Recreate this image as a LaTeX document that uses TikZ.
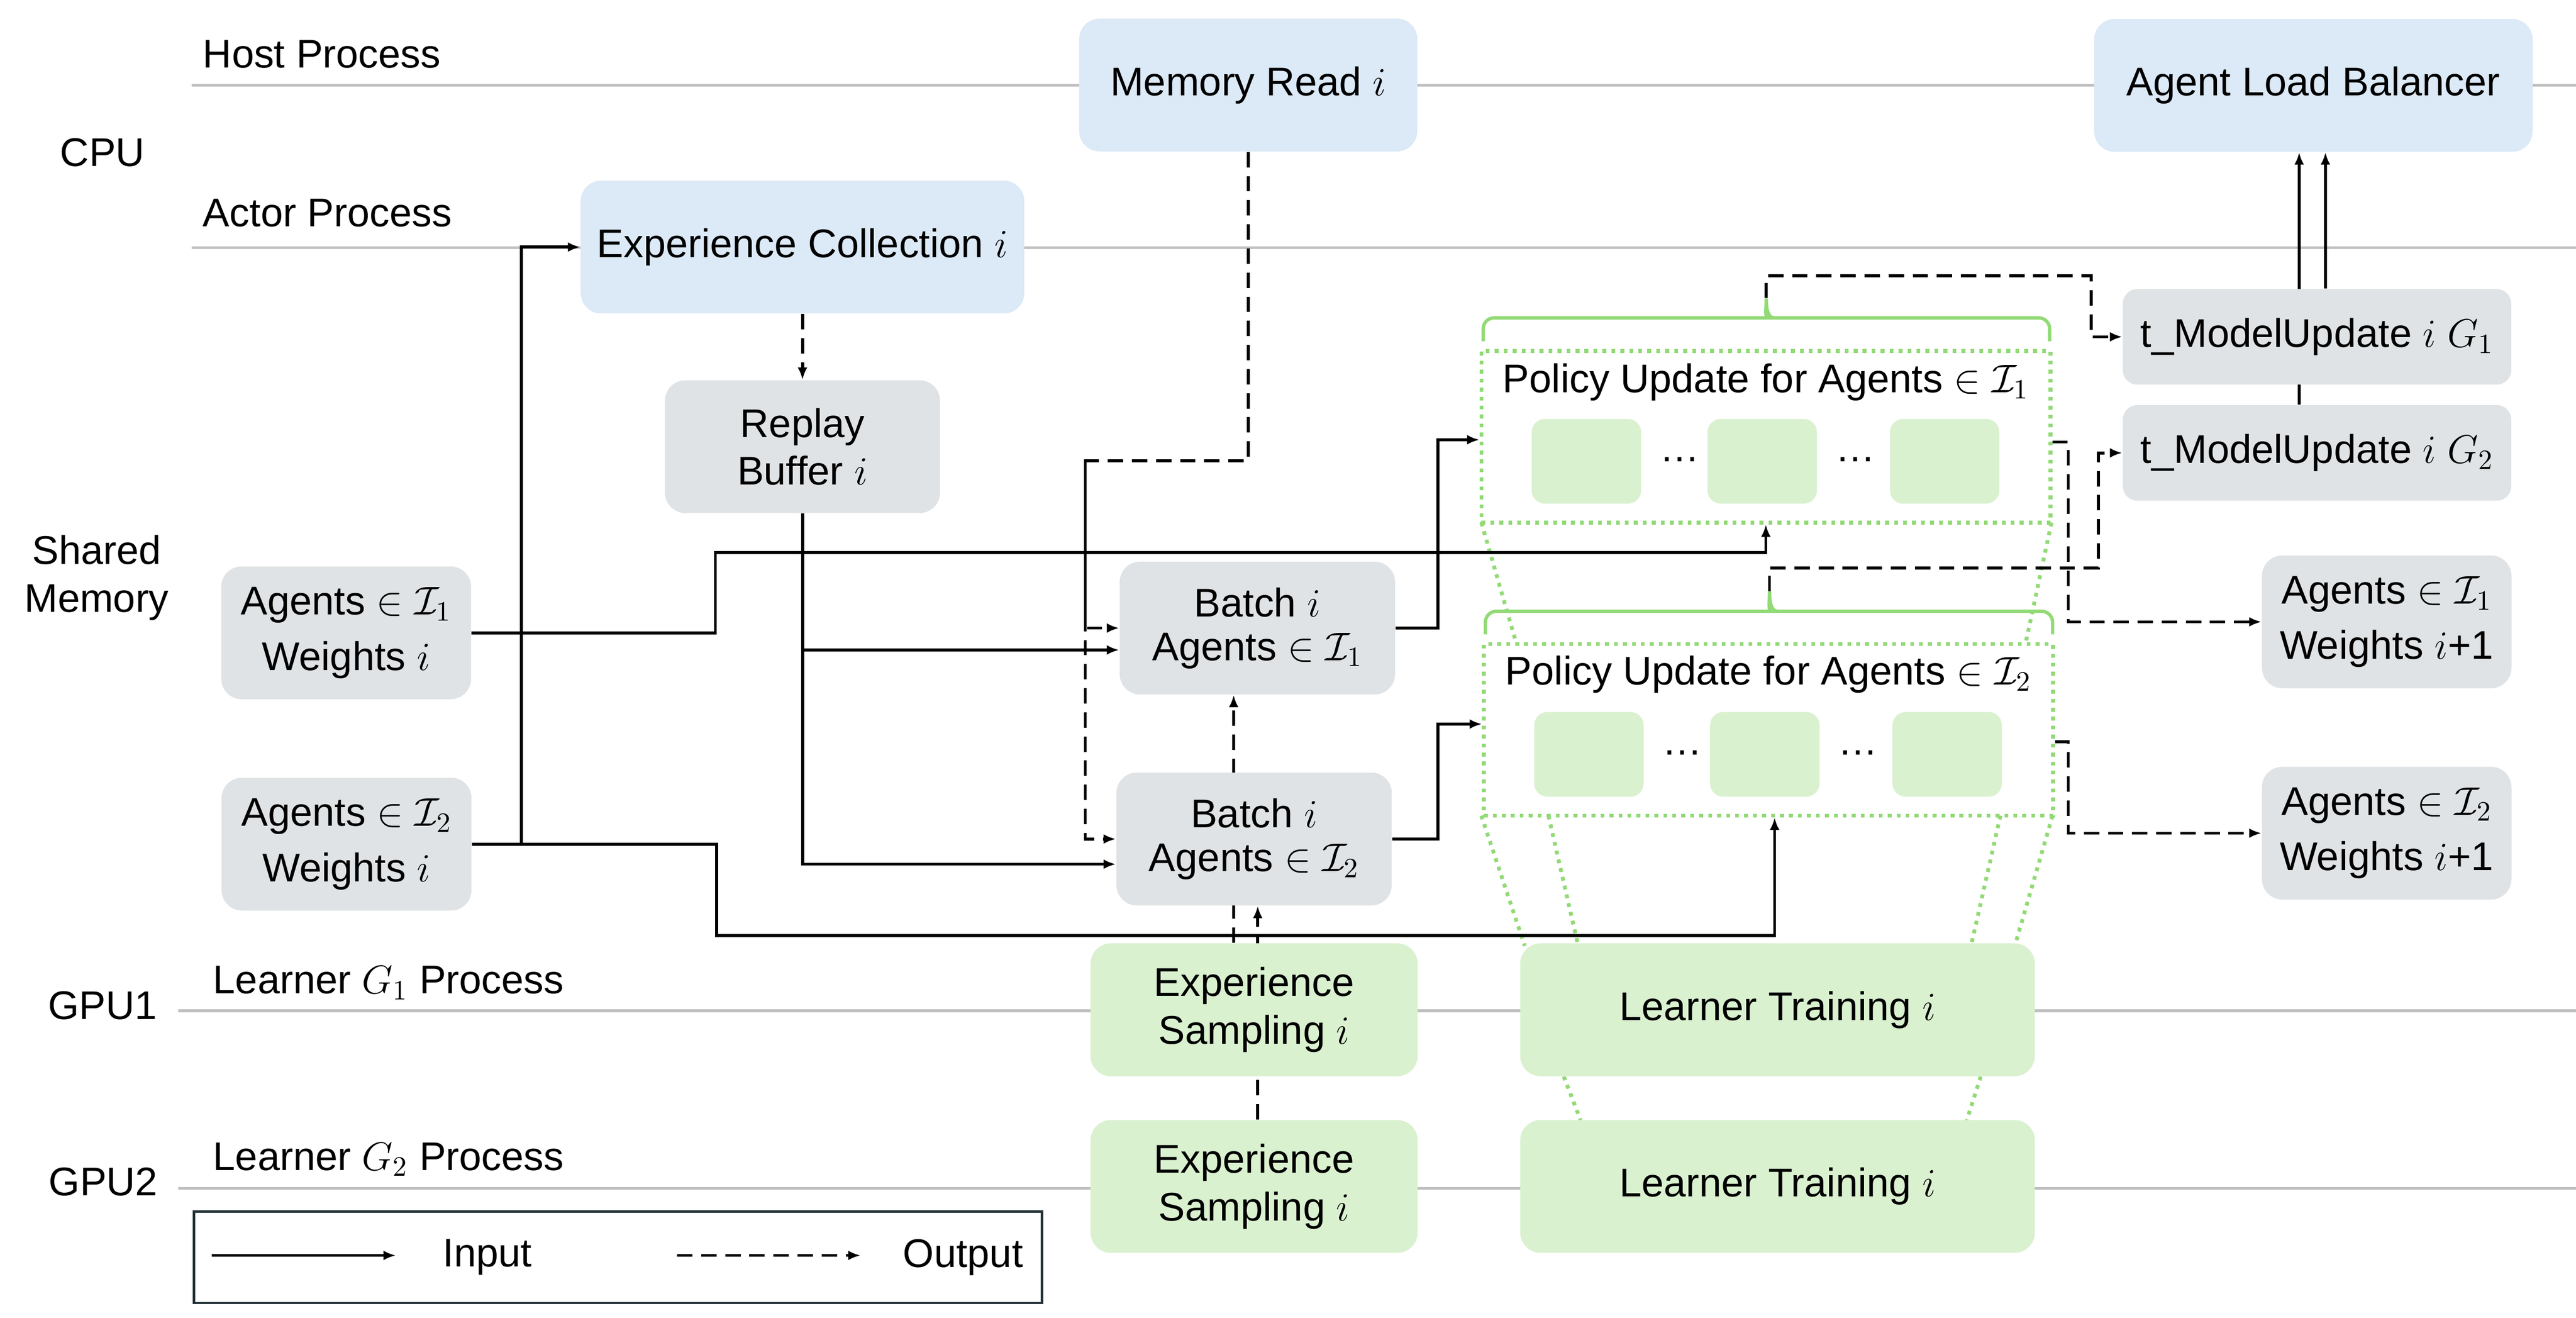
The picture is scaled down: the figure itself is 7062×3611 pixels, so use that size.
\documentclass[tikz,border=0pt]{standalone}
\usepackage{fix-cm}
\usepackage{amsmath}
\usepackage{fontspec}
\setmainfont{Liberation Sans}
\usepackage{tikz}
\usetikzlibrary{arrows.meta, backgrounds}
\definecolor{lb}{RGB}{220,233,246}
\definecolor{lgr}{RGB}{224,227,229}
\definecolor{lgn}{RGB}{218,241,208}
\definecolor{gn}{RGB}{146,218,118}
\definecolor{ln}{RGB}{191,191,191}
\definecolor{fr}{RGB}{35,50,55}

\begin{document}
\begin{tikzpicture}[
    x=0.05mm, y=-0.05mm,
    every node/.style={font=\fontsize{15.6}{18.6}\selectfont, inner sep=0pt},
    box/.style={rounded corners=2.8mm, minimum height=18.2mm, align=center},
    bluebox/.style={box, fill=lb},
    greybox/.style={box, fill=lgr},
    greenbox/.style={box, fill=lgn},
    cell/.style={fill=lgn, rounded corners=1.8mm, minimum width=15mm, minimum height=11.6mm},
    policy/.style={draw=gn, line width=1.5pt, dash pattern=on 1.5pt off 2pt, fill=white,
                   minimum width=78mm, minimum height=23.5mm},
    lane/.style={draw=ln, line width=1.1pt},
    inarrow/.style={line width=1.15pt, -{Latex[length=4.8pt,width=3.8pt]}},
    outarrow/.style={inarrow, dash pattern=on 6pt off 3.4pt},
    proj/.style={gn, line width=1.5pt, dash pattern=on 1.5pt off 2pt},
    brace/.style={gn, line width=1.3pt}]

      \useasboundingbox (0,0) rectangle (7062,3611);

      % lanes
      \node (cpu) at (281,418) {CPU};
      \node[anchor=west] (host) at (555,148) {Host Process};
      \node[anchor=west] (actor) at (555,584) {Actor Process};
      \node[align=center] (shmem) at (265,1583) {Shared\\Memory};
      \node (gpu1) at (281,2755) {GPU1};
      \node (gpu2) at (283,3238) {GPU2};
      \node[anchor=west] (lrn1) at (583,2693) {Learner $G_1$ Process};
      \node[anchor=west] (lrn2) at (583,3177) {Learner $G_2$ Process};

      % CPU
      \node[bluebox, minimum width=46.35mm] (memread) at (3422,233) {Memory Read $i$};
      \node[bluebox, minimum width=60.1mm] (alb) at (6342,234) {Agent Load Balancer};
      \node[bluebox, minimum width=60.8mm] (expcoll) at (2200,677) {Experience Collection $i$};

      % shared memory
      \node[greybox, minimum width=37.7mm] (replay) at (2200,1224) {Replay\\Buffer $i$};
      \node[greybox, minimum width=34.25mm] (agL1) at (949,1734) {Agents $\in\mathcal{I}_1$\\[3pt]Weights $i$};
      \node[greybox, minimum width=34.25mm] (agL2) at (950,2313) {Agents $\in\mathcal{I}_2$\\[3pt]Weights $i$};
      \node[greybox, minimum width=37.75mm] (batch1) at (3447,1721) {Batch $i$\\[-1.5pt]Agents $\in\mathcal{I}_1$};
      \node[greybox, minimum width=37.75mm] (batch2) at (3438,2299) {Batch $i$\\[-1.5pt]Agents $\in\mathcal{I}_2$};
      \node[greybox, minimum width=53.25mm, minimum height=13.1mm, rounded corners=2mm] (mu1) at (6352,923) {t\_ModelUpdate $i$ $G_1$};
      \node[greybox, minimum width=53.25mm, minimum height=13.1mm, rounded corners=2mm] (mu2) at (6352,1241) {t\_ModelUpdate $i$ $G_2$};
      \node[greybox, minimum width=34.2mm] (agR1) at (6543,1704) {Agents $\in\mathcal{I}_1$\\[3pt]Weights $i$+1};
      \node[greybox, minimum width=34.2mm] (agR2) at (6543,2283) {Agents $\in\mathcal{I}_2$\\[3pt]Weights $i$+1};

      % GPU
      \node[greenbox, minimum width=44.85mm] (samp1) at (3438,2767) {Experience\\Sampling $i$};
      \node[greenbox, minimum width=44.85mm] (samp2) at (3438,3251) {Experience\\Sampling $i$};
      \node[greenbox, minimum width=70.55mm] (train1) at (4873,2767) {Learner Training $i$};
      \node[greenbox, minimum width=70.55mm] (train2) at (4873,3251) {Learner Training $i$};

      % policy updates
      \node[policy] (pu1) at (4841,1197) {};
      \node[policy] (pu2) at (4848,2000) {};
      \node (pu1t) at ([yshift=7.5mm]pu1.center) {Policy Update for Agents $\in\mathcal{I}_1$};
      \node (pu2t) at ([yshift=7.6mm]pu2.center) {Policy Update for Agents $\in\mathcal{I}_2$};
      \foreach \dx [count=\k] in {-24.6, -0.5, 24.5} {
        \node[cell] (pu1c\k) at ([xshift=\dx mm, yshift=-3.35mm]pu1.center) {};
        \node[cell] (pu2c\k) at ([xshift=\dx mm, yshift=-3.35mm]pu2.center) {};
      }
      \foreach \dx [count=\k] in {-11.8, 12.25} {
        \node (pu1d\k) at ([xshift=\dx mm, yshift=-3.1mm]pu1.center) {\dots};
        \node (pu2d\k) at ([xshift=\dx mm, yshift=-3.1mm]pu2.center) {\dots};
      }

      \coordinate (tip1) at (4842,817);
      \coordinate (tip2) at (4851,1620);
      \draw[brace] (4066,935) [rounded corners=1.5mm] |- (4820,871) [sharp corners]
        .. controls (4836,871) and (4842,850) .. (tip1)
        .. controls (4842,850) and (4848,871) .. (4864,871) [rounded corners=1.5mm] -| (5619,935);
      \draw[brace] (4072,1738) [rounded corners=1.5mm] |- (4829,1675) [sharp corners]
        .. controls (4845,1675) and (4851,1654) .. (tip2)
        .. controls (4851,1654) and (4857,1675) .. (4873,1675) [rounded corners=1.5mm] -| (5627,1738);

      % inputs
      \draw[inarrow] (agL2.east) -| (1429,677) -- (expcoll.west);
      \draw[inarrow] (agL1.east) -| (1961,1514) -| (pu1.south);
      \draw[inarrow] (agL2.east) -| (1965,2563) -| ([xshift=0.85mm]pu2.south);
      \draw[inarrow] (replay.south) |- ([yshift=-3mm]batch1.west);
      \draw[inarrow] (replay.south) |- ([yshift=-3.45mm]batch2.west);
      \draw[inarrow] (batch1.east) -| (3942,1205) -- ([yshift=-0.4mm]pu1.west);
      \draw[inarrow] (batch2.east) -| (3942,1984) -- ([yshift=0.8mm]pu2.west);
      \draw[inarrow] ([xshift=1.15mm]mu1.north) -- ([xshift=1.65mm]alb.south);

      % outputs
      \coordinate (mrturn) at (2975,1263);
      \draw[outarrow] (expcoll.south) -- (replay.north);
      \draw[outarrow] (memread.south) |- (mrturn) |- (batch2.west);
      \draw[outarrow] (mrturn) |- (batch1.west);
      \draw[outarrow] (tip1) |- (5733,756) |- (mu1.west);
      \draw[outarrow] (tip2) |- (5753,1556) |- (mu2.west);
      \draw[outarrow] ([yshift=-0.7mm]pu1.east) -| (5670,1704) -- (agR1.west);
      \draw[outarrow] ([yshift=-1.6mm]pu2.east) -| (5670,2283) -- (agR2.west);

      \begin{scope}[on background layer]
        \draw[lane] (526,234) -- (7062,234);
        \draw[lane] (526,679) -- (7062,679);
        \draw[lane] (488,2770) -- (7062,2770);
        \draw[lane] (488,3256) -- (7062,3256);

        \draw[outarrow] ([xshift=-2.8mm]samp1.north) -- ([xshift=-3.25mm]batch1.south);
        \draw[outarrow] ([xshift=0.5mm]samp2.north) -- ([xshift=0.5mm]batch2.south);
        \draw[inarrow] ([xshift=-2.45mm]mu2.north) -- ([xshift=-1.95mm]alb.south);

        \foreach \ax/\ay/\bx/\by in {4061/1432/4157/1763, 5624/1432/5553/1763,
                                     4061/2235/4180/2592, 5627/2235/5524/2590,
                                     4245/2235/4325/2585, 5484/2235/5405/2585,
                                     4287/2950/4333/3069, 5430/2950/5392/3069}
          \draw[proj] (\ax,\ay) -- (\bx,\by);
      \end{scope}

      % legend
      \node[draw=fr, line width=1pt, minimum width=116.2mm, minimum height=12.55mm] (legend) at (1694,3445) {};
      \coordinate (inA) at (580,3440);
      \coordinate (inB) at (1085,3440);
      \coordinate (outA) at (1856,3440);
      \coordinate (outB) at (2359,3440);
      \draw[inarrow] (inA) -- (inB);
      \draw[outarrow] (outA) -- (outB);
      \node (inlab) at (1336,3445) {Input};
      \node (outlab) at (2640,3445) {Output};

    \end{tikzpicture}
\end{document}
